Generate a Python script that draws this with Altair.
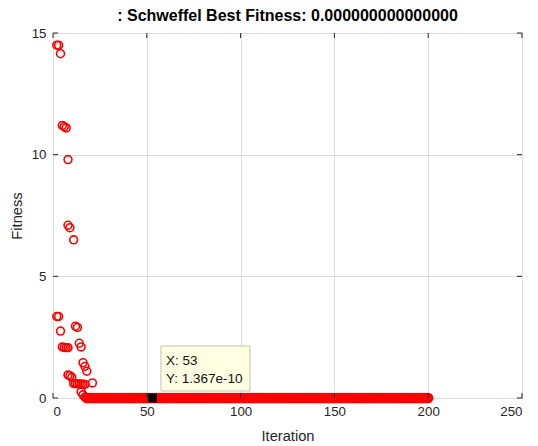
import altair as alt
import pandas as pd

# Fitness samples recorded during the first iterations (iteration, fitness)
early_iter = [2, 3, 4, 5, 6, 7, 8, 8, 9, 11,
              2, 3, 4, 5, 6, 7, 8, 12, 13, 14, 15,
              16, 17, 18, 8, 9, 10, 11, 12, 13, 14, 15, 16, 17, 21,
              15, 16, 17]
early_fit = [14.5, 14.5, 14.15, 11.2, 11.15, 11.1, 9.8, 7.1, 7.0, 6.5,
             3.35, 3.35, 2.75, 2.1, 2.08, 2.07, 2.07, 2.95, 2.9, 2.25, 2.1,
             1.45, 1.3, 1.1, 0.95, 0.92, 0.85, 0.6, 0.6, 0.58, 0.58, 0.57, 0.57, 0.56, 0.62,
             0.25, 0.13, 0.04]

# Converged tail: iterations 18..200 all sit at the optimum
tail_iter = list(range(18, 201))
tail_fit = [1.367e-10] * len(tail_iter)

# Data tip on one converged point
tip_x = 53
tip_y = 1.367e-10
tip_lines = ["X: 53", "Y: 1.367e-10"]

x_ticks = [0, 50, 100, 150, 200, 250]
y_ticks = [0, 5, 10, 15]

W, H = 469, 365
FONT = "Liberation Sans"
INK = "#262626"

xs = alt.Scale(domain=[0, 250], nice=False, zero=False)
ys = alt.Scale(domain=[0, 15], nice=False)

# One shared encoding per axis so every layer agrees on scale and axis
X = alt.X("iter:Q", scale=xs, title="Iteration",
          axis=alt.Axis(values=x_ticks, grid=True, ticks=False, tickSize=0, domain=False,
                        labelPadding=6, titlePadding=11, format="d"))
Y = alt.Y("fit:Q", scale=ys, title="Fitness",
          axis=alt.Axis(values=y_ticks, grid=True, ticks=False, tickSize=0, domain=False,
                        labelPadding=7, titlePadding=7, format="d"))

early = pd.DataFrame({"iter": early_iter, "fit": early_fit})
tail = pd.DataFrame({"iter": tail_iter, "fit": tail_fit})

circle_style = dict(shape="circle", filled=False, color="#ff0000", size=62, opacity=1)
early_pts = alt.Chart(early).mark_point(strokeWidth=1.6, **circle_style).encode(x=X, y=Y)
# densely packed circles along the converged stretch merge into a solid band
tail_pts = alt.Chart(tail).mark_point(strokeWidth=2.6, **circle_style).encode(x=X, y=Y)

# Inward tick marks on all four sides of the box
xt = pd.DataFrame({"iter": x_ticks})
yt = pd.DataFrame({"fit": y_ticks})
tick_style = dict(color=INK, strokeWidth=1)
xt_bottom = alt.Chart(xt).mark_rule(**tick_style).encode(
    x=X, y=alt.value(H), y2=alt.value(H - 5))
xt_top = alt.Chart(xt).mark_rule(**tick_style).encode(
    x=X, y=alt.value(0), y2=alt.value(5))
yt_left = alt.Chart(yt).mark_rule(**tick_style).encode(
    y=Y, x=alt.value(0), x2=alt.value(5))
yt_right = alt.Chart(yt).mark_rule(**tick_style).encode(
    y=Y, x=alt.value(W), x2=alt.value(W - 5))

tip = pd.DataFrame({"iter": [tip_x], "fit": [tip_y]})
tip_marker = alt.Chart(tip).mark_point(
    shape="square", filled=True, color="#000000", size=81, opacity=1
).encode(x=X, y=Y)

tip_box = alt.Chart(tip).mark_rect(
    fill="#ffffe1", stroke="#c4c4b0", strokeWidth=1,
    xOffset=8.5, x2Offset=97.5, yOffset=-52, y2Offset=-7
).encode(x=X, x2="iter:Q", y=Y, y2="fit:Q")

tip_text = pd.DataFrame({"iter": [tip_x, tip_x], "fit": [tip_y, tip_y], "label": tip_lines,
                         "row": [0, 1]})
tip_l1 = alt.Chart(tip_text).transform_filter("datum.row == 0").mark_text(
    align="left", baseline="middle", dx=13.5, dy=-37, font=FONT, fontSize=13.5, color="#111111"
).encode(x=X, y=Y, text="label:N")
tip_l2 = alt.Chart(tip_text).transform_filter("datum.row == 1").mark_text(
    align="left", baseline="middle", dx=13.5, dy=-19, font=FONT, fontSize=13.5, color="#111111"
).encode(x=X, y=Y, text="label:N")

chart = alt.layer(
    early_pts, tail_pts, xt_bottom, xt_top, yt_left, yt_right,
    tip_marker, tip_box, tip_l1, tip_l2
).properties(
    width=W, height=H,
    background="#ffffff",
    title=alt.TitleParams(
        text=": Schweffel Best Fitness: 0.000000000000000",
        font=FONT, fontSize=16, fontWeight="bold", color="#000000",
        anchor="middle", offset=9, baseline="alphabetic", dy=20,
    ),
    autosize=alt.AutoSizeParams(type="none"),
    padding={"left": 53, "top": 33, "right": 16, "bottom": 48},
).configure_view(
    stroke=INK, strokeWidth=1
).configure_axis(
    labelFont=FONT, titleFont=FONT, labelFontSize=13.3, titleFontSize=14.7,
    labelColor=INK, titleColor=INK, titleFontWeight="normal",
    gridColor="#dcdcdc", gridWidth=1,
)

chart.save("out.html", embed_options={"renderer": "svg", "actions": False})
